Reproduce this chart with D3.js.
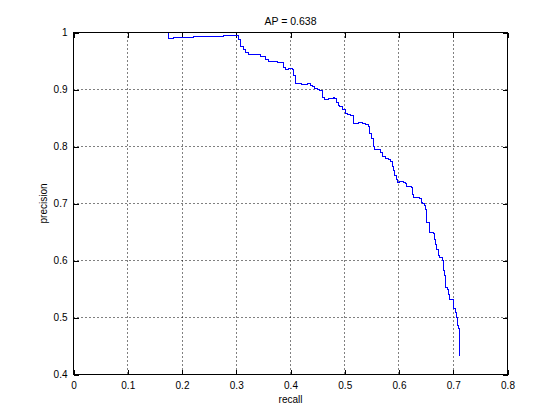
<!DOCTYPE html>
<html>
<head>
<meta charset="utf-8">
<script src="https://cdn.jsdelivr.net/npm/d3@7"></script>
<style>
  body { margin: 0; background: #fff; }
  text { font-family: Arial, "Liberation Sans", sans-serif; fill: #000; }
</style>
</head>
<body>
<svg id="chart"></svg>
<script>
// Data
const title = "AP = 0.638";
const xLabel = "recall";
const yLabel = "precision";

const xTicks = [0, 0.1, 0.2, 0.3, 0.4, 0.5, 0.6, 0.7, 0.8];
const xTickLabels = ["0", "0.1", "0.2", "0.3", "0.4", "0.5", "0.6", "0.7", "0.8"];
const yTicks = [0.4, 0.5, 0.6, 0.7, 0.8, 0.9, 1];
const yTickLabels = ["0.4", "0.5", "0.6", "0.7", "0.8", "0.9", "1"];

// step points of the PR curve (each is the right end of a flat run)
const recall = [
  0.1757, 0.1849, 0.2206, 0.2759, 0.3047, 0.3078, 0.3128, 0.3171, 0.3226, 0.3447,
  0.3539, 0.3600, 0.3760, 0.3876, 0.3908, 0.3969, 0.4031, 0.4061, 0.4083, 0.4101,
  0.4203, 0.4308, 0.4369, 0.4400, 0.4442, 0.4492, 0.4540, 0.4584, 0.4595, 0.4627,
  0.4706, 0.4787, 0.4811, 0.4848, 0.4876, 0.4909, 0.4953, 0.5014, 0.5056, 0.5106,
  0.5167, 0.5259, 0.5322, 0.5382, 0.5443, 0.5462, 0.5493, 0.5524, 0.5548, 0.5659,
  0.5690, 0.5751, 0.5812, 0.5843, 0.5875, 0.5899, 0.5923, 0.5945, 0.5972, 0.6009,
  0.6077, 0.6120, 0.6147, 0.6225, 0.6249, 0.6273, 0.6336, 0.6383, 0.6406, 0.6428,
  0.6470, 0.6488, 0.6512, 0.6571, 0.6627, 0.6654, 0.6673, 0.6700, 0.6719, 0.6752,
  0.6796, 0.6815, 0.6826, 0.6839, 0.6857, 0.6900, 0.6918, 0.6940, 0.6999, 0.7010,
  0.7041, 0.7060, 0.7073, 0.7102, 0.7115, 0.7115
];
const precision = [
  1.0000, 0.9889, 0.9918, 0.9935, 0.9953, 0.9882, 0.9754, 0.9702, 0.9649, 0.9618,
  0.9579, 0.9535, 0.9491, 0.9468, 0.9391, 0.9351, 0.9368, 0.9351, 0.9246, 0.9158,
  0.9105, 0.9088, 0.9105, 0.9070, 0.9047, 0.9026, 0.9000, 0.8982, 0.8939, 0.8854,
  0.8819, 0.8837, 0.8854, 0.8837, 0.8777, 0.8719, 0.8693, 0.8644, 0.8584, 0.8561,
  0.8539, 0.8398, 0.8416, 0.8398, 0.8381, 0.8351, 0.8223, 0.8135, 0.8000, 0.7942,
  0.7900, 0.7825, 0.7784, 0.7767, 0.7742, 0.7649, 0.7579, 0.7491, 0.7416, 0.7374,
  0.7391, 0.7374, 0.7356, 0.7298, 0.7272, 0.7158, 0.7111, 0.7100, 0.7079, 0.7023,
  0.6995, 0.6965, 0.6889, 0.6658, 0.6496, 0.6482, 0.6363, 0.6289, 0.6188, 0.6088,
  0.6047, 0.6000, 0.5942, 0.5825, 0.5737, 0.5518, 0.5486, 0.5404, 0.5311, 0.5281,
  0.5153, 0.5093, 0.5005, 0.4860, 0.4802, 0.4325
];

// Constants
const width = 560;
const height = 420;
const margin = { left: 73.5, right: 52.5, top: 32.5, bottom: 45.5 };
const visWidth = width - margin.left - margin.right;   // 434
const visHeight = height - margin.top - margin.bottom; // 342

const svg = d3.select('#chart')
  .attr('width', width)
  .attr('height', height);

const chart = svg.append('g')
  .attr('transform', 'translate(' + margin.left + ',' + margin.top + ')');

const x = d3.scaleLinear().domain([0, 0.8]).range([0, visWidth]);
const y = d3.scaleLinear().domain([0.4, 1]).range([visHeight, 0]);

// grid (dotted)
chart.append('g')
  .selectAll('line')
  .data(xTicks.slice(1, -1))
  .enter().append('line')
  .attr('x1', d => Math.round(x(d))).attr('x2', d => Math.round(x(d)))
  .attr('y1', 0).attr('y2', visHeight)
  .attr('stroke', '#000')
  .attr('stroke-dasharray', '1,3');

chart.append('g')
  .selectAll('line')
  .data(yTicks.slice(1, -1))
  .enter().append('line')
  .attr('x1', 0).attr('x2', visWidth)
  .attr('y1', d => Math.round(y(d))).attr('y2', d => Math.round(y(d)))
  .attr('stroke', '#000')
  .attr('stroke-dasharray', '1,3');

// axes, ticks pointing inward
const tick = 5;
chart.append('g')
  .attr('transform', 'translate(0,' + visHeight + ')')
  .call(d3.axisBottom(x).tickValues(xTicks).tickSize(-tick).tickPadding(7)
    .tickFormat((d, i) => xTickLabels[i]));
chart.append('g')
  .call(d3.axisTop(x).tickValues(xTicks).tickSize(-tick).tickFormat(''));
chart.append('g')
  .call(d3.axisLeft(y).tickValues(yTicks).tickSize(-tick).tickPadding(6)
    .tickFormat((d, i) => yTickLabels[i]));
chart.append('g')
  .attr('transform', 'translate(' + visWidth + ',0)')
  .call(d3.axisRight(y).tickValues(yTicks).tickSize(-tick).tickFormat(''));

chart.selectAll('.domain').remove();
chart.selectAll('.tick line').attr('stroke', '#000').attr('shape-rendering', 'crispEdges');
chart.selectAll('.tick text')
  .attr('font-size', '10px')
  .attr('font-family', 'Arial, "Liberation Sans", sans-serif');

// box
chart.append('rect')
  .attr('width', visWidth)
  .attr('height', visHeight)
  .attr('fill', 'none')
  .attr('stroke', '#000');

// PR curve
const points = recall.map((r, i) => [r, precision[i]]);
const line = d3.line()
  .x(d => x(d[0]))
  .y(d => y(d[1]))
  .curve(d3.curveStepBefore);

chart.append('path')
  .datum(points)
  .attr('d', line)
  .attr('fill', 'none')
  .attr('stroke', '#0000ff')
  .attr('stroke-width', 1)
  .attr('shape-rendering', 'crispEdges');

// labels
svg.append('text')
  .attr('x', margin.left + visWidth / 2)
  .attr('y', 25)
  .attr('text-anchor', 'middle')
  .attr('font-size', '10.5px')
  .text(title);

svg.append('text')
  .attr('x', margin.left + visWidth / 2)
  .attr('y', 403)
  .attr('text-anchor', 'middle')
  .attr('font-size', '10px')
  .text(xLabel);

svg.append('text')
  .attr('transform', 'translate(47,' + (margin.top + visHeight / 2) + ') rotate(-90)')
  .attr('text-anchor', 'middle')
  .attr('font-size', '10px')
  .text(yLabel);
</script>
</body>
</html>
